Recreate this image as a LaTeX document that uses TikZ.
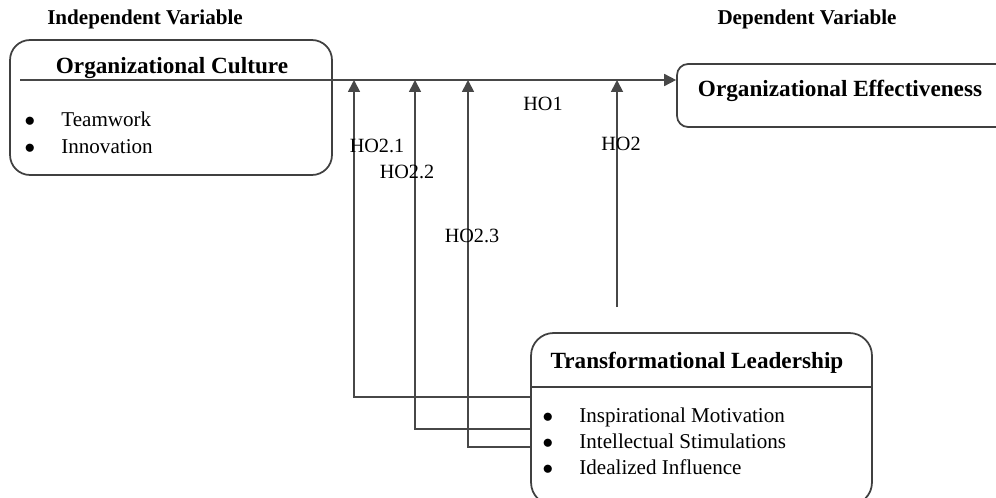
\documentclass[tikz,border=0pt]{standalone}
\usepackage{fontspec}
\setmainfont{Liberation Serif}
\usetikzlibrary{arrows.meta,calc}
\newcommand{\bulletitem}[3]{
\node[item, anchor=base] (#1dot) at ($(#2) + (0, 6)$) {$\bullet$};
\node[item, anchor=base west] (#1) at ($(#2) + (31, 6)$) {#3};
}
\tikzset{
box/.style={draw=black!75, line width=1pt},
heading/.style={font=\fontsize{12}{14}\selectfont\bfseries},
boxtitle/.style={font=\fontsize{13.2}{15}\selectfont\bfseries},
item/.style={font=\fontsize{12}{14}\selectfont, inner sep=0pt},
hlabel/.style={font=\fontsize{11.5}{13}\selectfont, inner sep=0pt},
conn/.style={draw=black!72, line width=1pt},
arr/.style={-{Triangle[length=0.24cm, width=0.24cm]}}
}

\begin{document}
\begin{tikzpicture}[x=0.02cm, y=-0.02cm]
\useasboundingbox (0,0) rectangle (996,497);
% headings
\node[heading] (indep) at (145,19) {Independent Variable};
\node[heading] (dep) at (807,19) {Dependent Variable};
% boxes
\node[box, rounded corners=0.4cm, minimum width=6.44cm, minimum height=2.7cm] (oc) at (171,107.5) {};
\node[box, rounded corners=0.22cm, minimum width=6.66cm, minimum height=1.26cm] (oe) at (843.5,95.5) {};
\node[box, rounded corners=0.45cm, minimum width=6.82cm, minimum height=3.44cm] (tl) at (701.5,419) {};
\node[boxtitle] (octitle) at (172,68) {Organizational Culture};
\node[boxtitle] (oetitle) at (840,91) {Organizational Effectiveness};
\node[boxtitle] (tltitle) at (697,363) {Transformational Leadership};
\coordinate (tlcut) at (0,387);
\draw[box] (tl.west |- tlcut) -- (tl.east |- tlcut);
% items
\bulletitem{team}{30,120}{Teamwork}
\bulletitem{innov}{30,147}{Innovation}
\bulletitem{insp}{548,416}{Inspirational Motivation}
\bulletitem{intel}{548,442}{Intellectual Stimulations}
\bulletitem{ideal}{548,468}{Idealized Influence}
% main path
\coordinate (hstart) at (20,80);
\draw[conn, arr] (hstart) -- (hstart -| oe.west);
\coordinate (j1) at (354,80);
\coordinate (j2) at (415,80);
\coordinate (j3) at (468,80);
\coordinate (j4) at (617,80);
\coordinate (f1) at (0,397);
\coordinate (f2) at (0,429);
\coordinate (f3) at (0,447);
\coordinate (ho2end) at (617,307);
\draw[conn, arr] (tl.west |- f1) -| (j1);
\draw[conn, arr] (tl.west |- f2) -| (j2);
\draw[conn, arr] (tl.west |- f3) -| (j3);
\draw[conn, arr] (ho2end) -- (j4);
% labels
\node[hlabel] (ho1) at (543,104) {HO1};
\node[hlabel] (ho2) at (621,144) {HO2};
\node[hlabel] (ho21) at (377,146) {HO2.1};
\node[hlabel] (ho22) at (407,172) {HO2.2};
\node[hlabel] (ho23) at (472,236) {HO2.3};
\end{tikzpicture}
\end{document}
